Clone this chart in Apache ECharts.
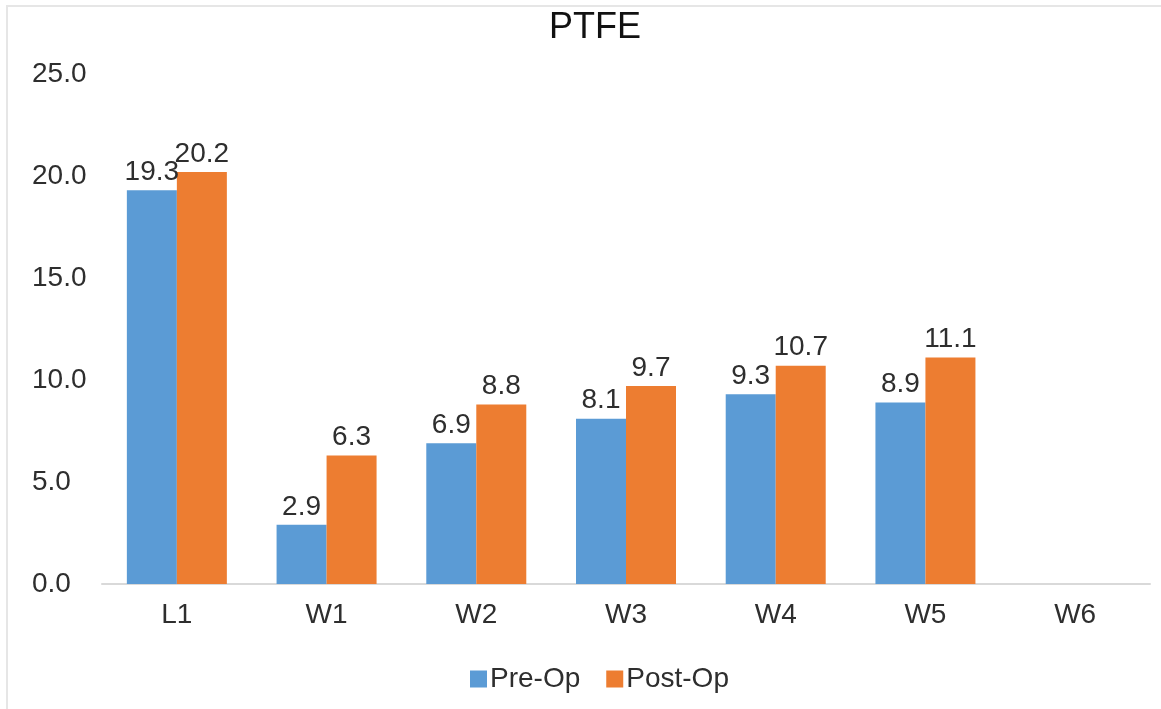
<!DOCTYPE html>
<html>
<head>
<meta charset="utf-8">
<script src="https://cdn.jsdelivr.net/npm/echarts@6/dist/echarts.min.js"></script>
<style>
  html, body { margin: 0; padding: 0; background: #ffffff; }
  #chart { width: 1161px; height: 709px; }
</style>
</head>
<body>
<div id="chart"></div>
<script>
// Categories and measured values per site
const categories = ['L1', 'W1', 'W2', 'W3', 'W4', 'W5', 'W6'];
const preOp = [19.3, 2.9, 6.9, 8.1, 9.3, 8.9, null];
const postOp = [20.2, 6.3, 8.8, 9.7, 10.7, 11.1, null];
const seriesNames = ['Pre-Op', 'Post-Op'];
const chartTitle = 'PTFE';

const FONT = '"Liberation Sans", Arial, sans-serif';
const TEXT = '#2e2e2e';
const FS = 28;

const chart = echarts.init(document.getElementById('chart'), null, { renderer: 'canvas' });

const labelCfg = {
  show: true,
  position: 'top',
  distance: 4,
  color: TEXT,
  fontFamily: FONT,
  fontSize: FS,
  formatter: p => (p.value == null ? '' : Number(p.value).toFixed(1))
};

chart.setOption({
  animation: false,
  backgroundColor: '#ffffff',
  graphic: [{
    type: 'rect',
    shape: { x: 7, y: 6, width: 1300, height: 900 },
    style: { fill: 'none', stroke: '#e6e6e6', lineWidth: 2 },
    silent: true
  }],
  title: {
    text: chartTitle,
    left: 590,
    textAlign: 'center',
    top: 5,
    textStyle: { fontFamily: FONT, fontSize: 36, fontWeight: 'normal', color: '#111111' }
  },
  legend: {
    data: seriesNames,
    left: 465,
    top: 660,
    itemWidth: 17,
    itemHeight: 17,
    itemGap: 26,
    icon: 'rect',
    textStyle: { fontFamily: FONT, fontSize: FS, color: TEXT, padding: [0, 0, 0, -2] }
  },
  grid: { left: 102, right: 11, top: 74, bottom: 125, containLabel: false },
  xAxis: {
    type: 'category',
    data: categories,
    axisLine: { lineStyle: { color: '#d9d9d9', width: 2 } },
    axisTick: { show: false },
    axisLabel: { color: TEXT, fontFamily: FONT, fontSize: FS, margin: 17 }
  },
  yAxis: {
    type: 'value',
    min: 0,
    max: 25,
    interval: 5,
    axisLine: { show: false },
    axisTick: { show: false },
    splitLine: { show: false },
    axisLabel: {
      color: TEXT, fontFamily: FONT, fontSize: FS, align: 'left', margin: 70,
      formatter: v => v.toFixed(1)
    }
  },
  series: [
    {
      name: seriesNames[0], type: 'bar', data: preOp,
      barWidth: 50, barGap: '0%',
      itemStyle: { color: '#5b9bd5' },
      label: labelCfg
    },
    {
      name: seriesNames[1], type: 'bar', data: postOp,
      barWidth: 50, barGap: '0%',
      itemStyle: { color: '#ed7d31' },
      label: labelCfg
    }
  ]
});
</script>
</body>
</html>
